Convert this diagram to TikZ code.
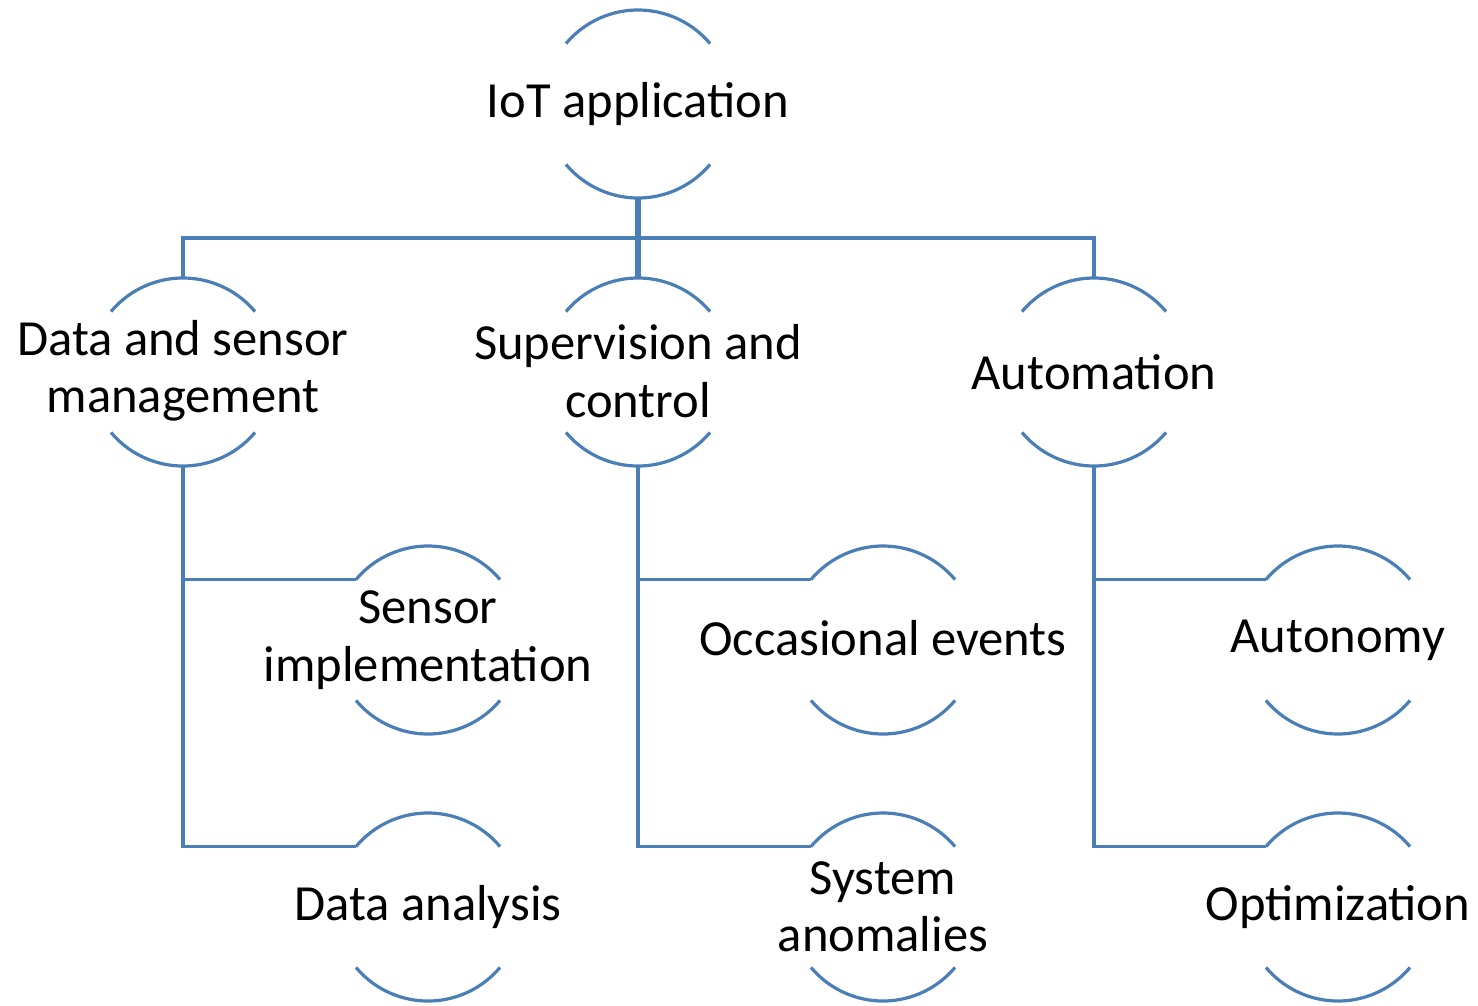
\documentclass[tikz,border=0pt]{standalone}
\usepackage{fontspec}
\setmainfont{Carlito}
\definecolor{linec}{HTML}{4A7EB7}
\begin{document}
\begin{tikzpicture}[x=1pt,y=1pt,
  ring/.style={circle,minimum size=188pt,inner sep=0pt,outer sep=0pt},
  txt/.style={align=center,inner sep=0pt,font=\fontsize{50.6}{57.5}\selectfont},
  ringarc/.style={draw=linec,line width=3.2pt},
  conn/.style={draw=linec,line width=3.6pt},
  trunk/.style={draw=linec,line width=5.5pt}]
\useasboundingbox (0,0) rectangle (1478,-1005);
% rings
\node[ring] (root) at (638,-104) {};
\node[ring] (dsm) at (183,-372) {};
\node[ring] (sc) at (638,-372) {};
\node[ring] (au) at (1094,-372) {};
\node[ring] (si) at (428,-640) {};
\node[ring] (da) at (428,-907) {};
\node[ring] (oe) at (883,-640) {};
\node[ring] (sa) at (883,-907) {};
\node[ring] (ay) at (1338,-640) {};
\node[ring] (op) at (1338,-907) {};
% texts
\node[txt] (root-t) at (root) {IoT application};
\node[txt] (dsm-t) at ([yshift=1pt]dsm) {Data and sensor\\management};
\node[txt] (sc-t) at ([yshift=1pt]sc) {Supervision and\\control};
\node[txt] (au-t) at (au) {Automation};
\node[txt] (si-t) at (si) {Sensor\\implementation};
\node[txt] (da-t) at (da) {Data analysis};
\node[txt] (oe-t) at ([yshift=2pt]oe) {Occasional events};
\node[txt] (sa-t) at (sa) {System\\anomalies};
\node[txt] (ay-t) at (ay) {Autonomy};
\node[txt] (op-t) at (op) {Optimization};
% arcs
\foreach \n in {root,dsm,sc,au,si,da,oe,sa,ay,op}{
  \draw[ringarc] (\n.40) arc[start angle=40,end angle=140,radius=94];
  \draw[ringarc] (\n.220) arc[start angle=220,end angle=320,radius=94];
}
% connectors
\coordinate (bar) at (638,-238);
\draw[conn] (dsm.north) |- (bar) -| (au.north);
\draw[trunk] (root.south) -- (sc.north);
\foreach \p/\a/\b in {dsm/si/da,sc/oe/sa,au/ay/op}{
  \draw[conn] (\p.south) |- (\b.140);
  \draw[conn] (\p.south |- \a.140) -- (\a.140);
}
\end{tikzpicture}
\end{document}
